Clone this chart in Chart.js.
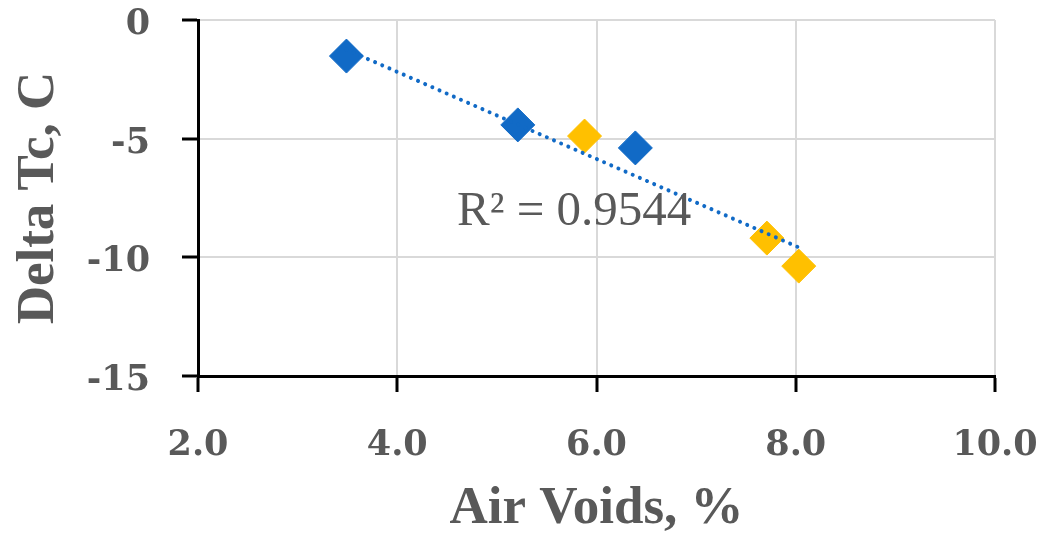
<!DOCTYPE html>
<html>
<head>
<meta charset="utf-8">
<script src="https://cdn.jsdelivr.net/npm/chart.js@4"></script>
<style>
  html, body { margin: 0; padding: 0; background: #ffffff; }
  #wrap { width: 1045px; height: 541px; position: relative; }
</style>
</head>
<body>
<div id="wrap"><canvas id="c" width="1045" height="541"></canvas></div>
<script>
// ---- data ----
const blueX = [3.49, 5.21, 6.39];
const blueY = [-1.52, -4.42, -5.39];
const yellowX = [5.88, 7.71, 8.03];
const yellowY = [-4.89, -9.19, -10.37];
const trendX = [3.49, 8.03];
const trendY = [-1.25, -9.58];
const xTicks = [2, 4, 6, 8, 10];
const yTicks = [-15, -10, -5, 0];
const r2Text = 'R\u00B2 = 0.9544';
const r2Anchor = [4.6, -8.62];
const xTitle = 'Air Voids, %';
const yTitle = 'Delta Tc, C';

const toPts = (xs, ys) => xs.map((x, i) => ({ x: x, y: ys[i] }));

const BLUE = '#116AC6';
const YELLOW = '#FFC000';
const GREY = '#595959';

const r2Plugin = {
  id: 'r2label',
  afterDatasetsDraw(chart) {
    const ctx = chart.ctx;
    const px = chart.scales.x.getPixelForValue(r2Anchor[0]);
    const py = chart.scales.y.getPixelForValue(r2Anchor[1]);
    ctx.save();
    ctx.font = '49px "Liberation Serif", serif';
    ctx.fillStyle = GREY;
    ctx.textAlign = 'left';
    ctx.textBaseline = 'alphabetic';
    ctx.fillText(r2Text, px, py);
    ctx.restore();
  }
};

function zeroPad(scale) {
  scale.paddingTop = 0; scale.paddingBottom = 0;
  scale.paddingLeft = 0; scale.paddingRight = 0;
}

new Chart(document.getElementById('c'), {
  type: 'scatter',
  data: {
    datasets: [
      {
        type: 'line',
        data: toPts(trendX, trendY),
        borderColor: BLUE,
        borderWidth: 4,
        borderDash: [0.01, 7.8],
        borderCapStyle: 'round',
        pointRadius: 0,
        fill: false,
        order: 0
      },
      {
        data: toPts(blueX, blueY),
        pointStyle: 'rectRot',
        pointRadius: 17,
        backgroundColor: BLUE,
        borderColor: BLUE,
        borderWidth: 1,
        order: 1
      },
      {
        data: toPts(yellowX, yellowY),
        pointStyle: 'rectRot',
        pointRadius: 17,
        backgroundColor: YELLOW,
        borderColor: YELLOW,
        borderWidth: 1,
        order: 1
      }
    ]
  },
  options: {
    responsive: false,
    animation: false,
    events: [],
    layout: { padding: { top: 20, right: 50, bottom: 0, left: 0 } },
    plugins: { legend: { display: false }, tooltip: { enabled: false } },
    scales: {
      x: {
        type: 'linear',
        min: 2, max: 10,
        afterBuildTicks(scale) { scale.ticks = xTicks.map(v => ({ value: v })); },
        afterFit(scale) { scale.height = 165; zeroPad(scale); },
        ticks: {
          padding: 36,
          color: GREY,
          font: { family: '"DejaVu Serif", serif', weight: 'bold', size: 35, lineHeight: 1 },
          callback: v => Number(v).toFixed(1),
          maxRotation: 0, autoSkip: false
        },
        grid: { color: '#d9d9d9', lineWidth: 2, tickColor: '#000000', tickWidth: 3, tickLength: 16 },
        border: { color: '#000000', width: 3 },
        title: {
          display: true, text: xTitle, color: GREY,
          font: { family: '"Liberation Serif", serif', weight: 'bold', size: 53, lineHeight: 1.2 },
          padding: { top: 0, bottom: 0 }
        }
      },
      y: {
        type: 'linear',
        min: -15, max: 0,
        afterBuildTicks(scale) { scale.ticks = yTicks.map(v => ({ value: v })); },
        afterFit(scale) { scale.width = 198; zeroPad(scale); },
        ticks: {
          padding: 32,
          labelOffset: 5,
          color: GREY,
          font: { family: '"DejaVu Serif", serif', weight: 'bold', size: 35, lineHeight: 1 },
          callback: v => String(v)
        },
        grid: { color: '#d9d9d9', lineWidth: 2, tickColor: '#000000', tickWidth: 3, tickLength: 16 },
        border: { color: '#000000', width: 3 },
        title: {
          display: true, text: yTitle, color: GREY,
          font: { family: '"Liberation Serif", serif', weight: 'bold', size: 53, lineHeight: 1.2 },
          padding: { top: 8, bottom: 0 }
        }
      }
    }
  },
  plugins: [r2Plugin]
});
</script>
</body>
</html>
